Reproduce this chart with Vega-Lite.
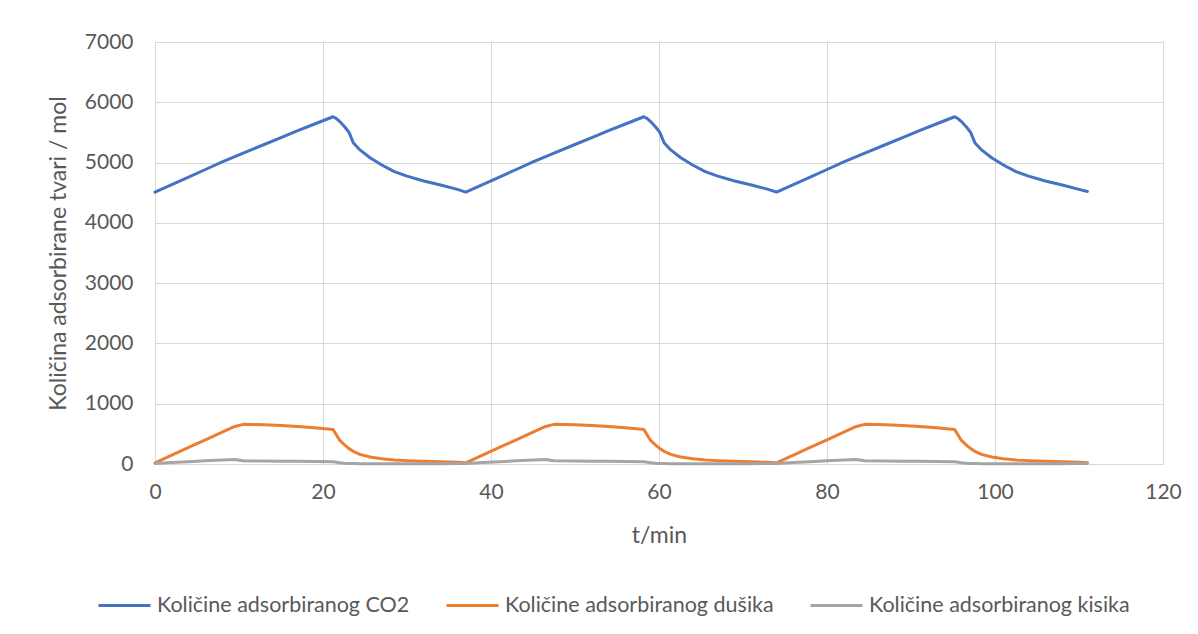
{
  "$schema": "https://vega.github.io/schema/vega-lite/v6.json",
  "width": 1008,
  "height": 422,
  "autosize": {"type": "none"},
  "padding": {"left": 155, "top": 42, "right": 35, "bottom": 170},
  "background": "white",
  "data": {
    "values": [
      {"t": 0, "co2": 4510, "n2": 20, "o2": 10},
      {"t": 2, "co2": 4635, "n2": 147, "o2": 24},
      {"t": 4, "co2": 4760, "n2": 274, "o2": 38},
      {"t": 6, "co2": 4885, "n2": 401, "o2": 52},
      {"t": 8, "co2": 5010, "n2": 528, "o2": 65},
      {"t": 9.5, "co2": 5099, "n2": 623, "o2": 75},
      {"t": 10.5, "co2": 5158, "n2": 658, "o2": 55},
      {"t": 13, "co2": 5300, "n2": 650, "o2": 48},
      {"t": 15, "co2": 5415, "n2": 637, "o2": 46},
      {"t": 17, "co2": 5530, "n2": 622, "o2": 44},
      {"t": 19, "co2": 5640, "n2": 603, "o2": 41},
      {"t": 21.2, "co2": 5760, "n2": 572, "o2": 38},
      {"t": 21.6, "co2": 5730, "n2": 480, "o2": 30},
      {"t": 22, "co2": 5680, "n2": 390, "o2": 22},
      {"t": 22.6, "co2": 5590, "n2": 315, "o2": 14},
      {"t": 23.1, "co2": 5500, "n2": 255, "o2": 9},
      {"t": 23.6, "co2": 5330, "n2": 210, "o2": 7},
      {"t": 24.4, "co2": 5210, "n2": 160, "o2": 6},
      {"t": 25.6, "co2": 5080, "n2": 115, "o2": 5},
      {"t": 27, "co2": 4960, "n2": 88, "o2": 4},
      {"t": 28.5, "co2": 4850, "n2": 68, "o2": 4},
      {"t": 30, "co2": 4775, "n2": 56, "o2": 4},
      {"t": 32, "co2": 4695, "n2": 45, "o2": 4},
      {"t": 34, "co2": 4628, "n2": 36, "o2": 5},
      {"t": 36, "co2": 4555, "n2": 28, "o2": 7},
      {"t": 37, "co2": 4510, "n2": 20, "o2": 10},
      {"t": 39, "co2": 4635, "n2": 147, "o2": 24},
      {"t": 41, "co2": 4760, "n2": 274, "o2": 38},
      {"t": 43, "co2": 4885, "n2": 401, "o2": 52},
      {"t": 45, "co2": 5010, "n2": 528, "o2": 65},
      {"t": 46.5, "co2": 5099, "n2": 623, "o2": 75},
      {"t": 47.5, "co2": 5158, "n2": 658, "o2": 55},
      {"t": 50, "co2": 5300, "n2": 650, "o2": 48},
      {"t": 52, "co2": 5415, "n2": 637, "o2": 46},
      {"t": 54, "co2": 5530, "n2": 622, "o2": 44},
      {"t": 56, "co2": 5640, "n2": 603, "o2": 41},
      {"t": 58.2, "co2": 5760, "n2": 572, "o2": 38},
      {"t": 58.6, "co2": 5730, "n2": 480, "o2": 30},
      {"t": 59, "co2": 5680, "n2": 390, "o2": 22},
      {"t": 59.6, "co2": 5590, "n2": 315, "o2": 14},
      {"t": 60.1, "co2": 5500, "n2": 255, "o2": 9},
      {"t": 60.6, "co2": 5330, "n2": 210, "o2": 7},
      {"t": 61.4, "co2": 5210, "n2": 160, "o2": 6},
      {"t": 62.6, "co2": 5080, "n2": 115, "o2": 5},
      {"t": 64, "co2": 4960, "n2": 88, "o2": 4},
      {"t": 65.5, "co2": 4850, "n2": 68, "o2": 4},
      {"t": 67, "co2": 4775, "n2": 56, "o2": 4},
      {"t": 69, "co2": 4695, "n2": 45, "o2": 4},
      {"t": 71, "co2": 4628, "n2": 36, "o2": 5},
      {"t": 73, "co2": 4555, "n2": 28, "o2": 7},
      {"t": 74, "co2": 4510, "n2": 20, "o2": 10},
      {"t": 76, "co2": 4635, "n2": 147, "o2": 24},
      {"t": 78, "co2": 4760, "n2": 274, "o2": 38},
      {"t": 80, "co2": 4885, "n2": 401, "o2": 52},
      {"t": 82, "co2": 5010, "n2": 528, "o2": 65},
      {"t": 83.5, "co2": 5099, "n2": 623, "o2": 75},
      {"t": 84.5, "co2": 5158, "n2": 658, "o2": 55},
      {"t": 87, "co2": 5300, "n2": 650, "o2": 48},
      {"t": 89, "co2": 5415, "n2": 637, "o2": 46},
      {"t": 91, "co2": 5530, "n2": 622, "o2": 44},
      {"t": 93, "co2": 5640, "n2": 603, "o2": 41},
      {"t": 95.2, "co2": 5760, "n2": 572, "o2": 38},
      {"t": 95.6, "co2": 5730, "n2": 480, "o2": 30},
      {"t": 96, "co2": 5680, "n2": 390, "o2": 22},
      {"t": 96.6, "co2": 5590, "n2": 315, "o2": 14},
      {"t": 97.1, "co2": 5500, "n2": 255, "o2": 9},
      {"t": 97.6, "co2": 5330, "n2": 210, "o2": 7},
      {"t": 98.4, "co2": 5210, "n2": 160, "o2": 6},
      {"t": 99.6, "co2": 5080, "n2": 115, "o2": 5},
      {"t": 101, "co2": 4960, "n2": 88, "o2": 4},
      {"t": 102.5, "co2": 4850, "n2": 68, "o2": 4},
      {"t": 104, "co2": 4775, "n2": 56, "o2": 4},
      {"t": 106, "co2": 4695, "n2": 45, "o2": 4},
      {"t": 108, "co2": 4628, "n2": 36, "o2": 5},
      {"t": 110, "co2": 4555, "n2": 28, "o2": 7},
      {"t": 111, "co2": 4520, "n2": 22, "o2": 8}
    ]
  },
  "transform": [{"fold": ["co2", "n2", "o2"], "as": ["serija", "v"]}],
  "mark": {"type": "line", "strokeWidth": 3, "strokeCap": "round", "strokeJoin": "round"},
  "encoding": {
    "x": {
      "field": "t", "type": "quantitative",
      "scale": {"domain": [0, 120], "nice": false, "zero": false},
      "axis": {"values": [0, 20, 40, 60, 80, 100, 120], "format": "d", "labelFlush": false, "labelOverlap": false, "labelBound": false, "title": "t/min", "titlePadding": 22, "labelPadding": 17}
    },
    "y": {
      "field": "v", "type": "quantitative",
      "scale": {"domain": [0, 7000], "nice": false},
      "axis": {"values": [0, 1000, 2000, 3000, 4000, 5000, 6000, 7000], "format": "d", "labelFlush": false, "labelOverlap": false, "title": "Količina adsorbirane tvari / mol", "titlePadding": 14, "labelPadding": 22}
    },
    "color": {
      "field": "serija", "type": "nominal",
      "scale": {"domain": ["co2", "n2", "o2"], "range": ["#4472C4", "#ED7D31", "#A5A5A5"]},
      "legend": {
        "title": null,
        "orient": "none",
        "legendX": -58,
        "legendY": 536,
        "direction": "horizontal",
        "labelExpr": "datum.value == 'co2' ? 'Količine adsorbiranog CO2' : datum.value == 'n2' ? 'Količine adsorbiranog dušika' : 'Količine adsorbiranog kisika'"
      }
    }
  },
  "config": {
    "font": "Lato",
    "view": {"stroke": null},
    "axis": {
      "grid": true, "gridColor": "#D9D9D9", "gridWidth": 1,
      "domain": false, "ticks": false,
      "labelColor": "#595959", "labelFontSize": 21, "labelFont": "Lato",
      "titleColor": "#595959", "titleFontSize": 23, "titleFont": "Lato", "titleFontWeight": "normal"
    },
    "legend": {
      "symbolType": "stroke", "symbolSize": 2700, "symbolStrokeWidth": 3,
      "labelColor": "#595959", "labelFontSize": 21.5, "labelFont": "Lato", "labelLimit": 500,
      "labelOffset": 5, "columnPadding": 30
    }
  }
}
